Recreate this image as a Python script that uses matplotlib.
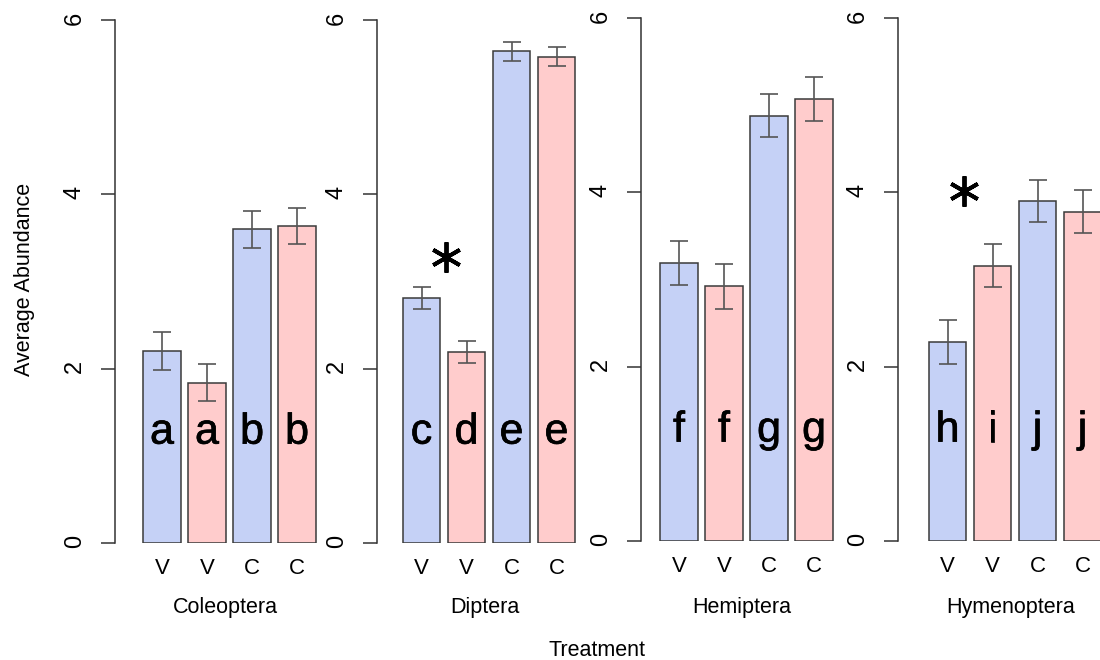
import matplotlib
matplotlib.use("Agg")
import matplotlib.pyplot as plt
import matplotlib.transforms as mtransforms
import matplotlib.patheffects as pe

plt.rcParams["font.family"] = "Liberation Sans"

# data: mean abundance and standard error per order, bars in order V V C C
orders = ["Coleoptera", "Diptera", "Hemiptera", "Hymenoptera"]
treatments = ["V", "V", "C", "C"]
means = [
    [2.20, 1.84, 3.60, 3.64],
    [2.81, 2.19, 5.64, 5.58],
    [3.19, 2.92, 4.88, 5.07],
    [2.28, 3.16, 3.90, 3.78],
]
errors = [
    [0.215, 0.215, 0.21, 0.205],
    [0.125, 0.125, 0.11, 0.105],
    [0.25, 0.26, 0.25, 0.255],
    [0.25, 0.245, 0.245, 0.245],
]
letters = [
    ["a", "a", "b", "b"],
    ["c", "d", "e", "e"],
    ["f", "f", "g", "g"],
    ["h", "i", "j", "j"],
]
# significance stars (x in bar units, y in abundance) per panel
stars = [None, (0.54, 3.28), None, (0.37, 4.02)]

blue = "#c5d1f6"
pink = "#ffcccc"
bar_colors = [blue, pink, blue, pink]

W, H = 1100, 660
step = 45.0  # pixels per bar slot
# panel geometry in pixels: y-axis x, first bar centre, y of 0, y of 6
panels = [
    (115, 162, 543, 20),
    (377, 421.5, 543, 20),
    (641, 679, 541, 18),
    (898, 947.5, 541, 18),
]

fig = plt.figure(figsize=(W / 100, H / 100), dpi=100)

for k, (ax_x, c0, y0, y6) in enumerate(panels):
    xmin = -(c0 - ax_x) / step
    xmax = 3.7
    ax = fig.add_axes([ax_x / W, (H - y0) / H, (xmax - xmin) * step / W, (y0 - y6) / H])
    ax.set_xlim(xmin, xmax)
    ax.set_ylim(0, 6)

    x = list(range(4))
    ax.bar(x, means[k], width=0.84, color=bar_colors,
           edgecolor="#3a3a3a", linewidth=1.1, zorder=2)
    ax.errorbar(x, means[k], yerr=errors[k], fmt="none", ecolor="#555555",
                elinewidth=1.2, capsize=6.5, capthick=1.2, zorder=3)

    for xi, lab in zip(x, letters[k]):
        ax.text(xi, 1.14, lab, ha="center", va="baseline", fontsize=31, zorder=4,
                path_effects=[pe.withStroke(linewidth=0.5, foreground="black")])

    if stars[k] is not None:
        ax.plot(stars[k][0], stars[k][1], marker=(6, 2, 0), markersize=22,
                markeredgewidth=2.8, color="black", zorder=4)

    for side in ["top", "right", "bottom"]:
        ax.spines[side].set_visible(False)
    ax.spines["left"].set_color("#333333")
    ax.spines["left"].set_linewidth(1.1)

    ax.set_yticks([0, 2, 4, 6])
    ax.set_yticklabels(["0", "2", "4", "6"])
    ax.tick_params(axis="y", length=10, width=1.1, color="#333333",
                   labelsize=17, labelrotation=90, pad=11)
    ax.set_xticks(x)
    ax.set_xticklabels(treatments)
    ax.tick_params(axis="x", length=0, labelsize=16, pad=11)

    trans = mtransforms.blended_transform_factory(ax.transData, fig.transFigure)
    ax.text(1.4, 1 - 607 / H, orders[k], transform=trans, ha="center",
            va="center", fontsize=15.5, clip_on=False)

fig.text(597 / W, 1 - 650 / H, "Treatment", ha="center", va="center", fontsize=15.5)
fig.text(25 / W, 1 - 279 / H, "Average Abundance", ha="center", va="center",
         rotation=90, fontsize=15.5)

fig.savefig("out.png", dpi=100)
